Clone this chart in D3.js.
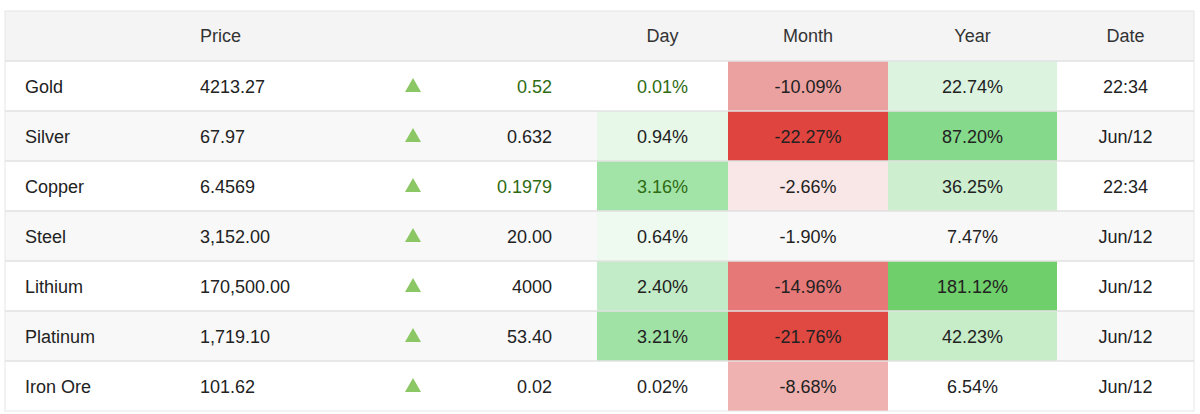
<!DOCTYPE html>
<html lang="en">
<head>
<meta charset="utf-8">
<script src="https://cdn.jsdelivr.net/npm/d3@7"></script>
<style>body{margin:0;background:#fff}text{font-family:"Liberation Sans",Arial,sans-serif;font-size:18px;fill:#222}</style>
</head>
<body>
<script>
// data
var names = ["Gold", "Silver", "Copper", "Steel", "Lithium", "Platinum", "Iron Ore"];
var prices = ["4213.27", "67.97", "6.4569", "3,152.00", "170,500.00", "1,719.10", "101.62"];
var changes = ["0.52", "0.632", "0.1979", "20.00", "4000", "53.40", "0.02"];
var dayPct = [0.01, 0.94, 3.16, 0.64, 2.40, 3.21, 0.02];
var monthPct = [-10.09, -22.27, -2.66, -1.90, -14.96, -21.76, -8.68];
var yearPct = [22.74, 87.20, 36.25, 7.47, 181.12, 42.23, 6.54];
var dates = ["22:34", "Jun/12", "22:34", "Jun/12", "Jun/12", "Jun/12", "Jun/12"];
var live = [true, false, true, false, false, false, false];
var headers = ["", "Price", "", "", "Day", "Month", "Year", "Date"];

var W = 1200, H = 414;
var svg = d3.select("body").append("svg").attr("width", W).attr("height", H);

// column edges
var cols = [5, 180, 380, 445, 597, 728, 888, 1057, 1194];
var y = d3.scaleBand().domain(d3.range(-1, names.length)).range([11, 411]);

var dayColor = d3.scaleLinear().domain([0.1, 0.6, 2.4, 3.2]).range(["#ffffff", "#eff9f0", "#c2ecc7", "#a0e2a5"]).clamp(true);
var monthColor = d3.scaleLinear().domain([-2, -2.66, -8.68, -10.09, -14.96, -22.27]).range(["#ffffff", "#f9e6e6", "#f0b2b0", "#eba1a0", "#e67878", "#e0443e"]).clamp(true);
var yearColor = d3.scaleLinear().domain([8, 22.74, 42.23, 87.2, 181.12]).range(["#ffffff", "#dcf3df", "#c6ecc8", "#85d98a", "#6fcf6a"]).clamp(true);

// header
svg.append("rect").attr("x", cols[0]).attr("y", y(-1)).attr("width", cols[8] - cols[0]).attr("height", y.bandwidth()).attr("fill", "#f4f4f4");
headers.forEach(function(h, i) {
  if (!h) return;
  var x = i == 1 ? cols[1] + 20 : (cols[i] + cols[i + 1]) / 2;
  svg.append("text").attr("x", x).attr("y", y(-1) + y.bandwidth() / 2 + 6)
    .attr("text-anchor", i == 1 ? "start" : "middle").style("fill", "#333").text(h);
});

var rows = svg.selectAll("g.row").data(names).enter().append("g")
  .attr("transform", function(d, i) { return "translate(0," + y(i) + ")"; });
var bh = y.bandwidth(), ty = bh / 2 + 7;
rows.append("rect").attr("x", cols[0]).attr("width", cols[8] - cols[0]).attr("height", bh)
  .attr("fill", function(d, i) { return i % 2 ? "#f8f8f8" : "#fff"; });
function cell(ci, colorFn) {
  rows.append("rect").attr("x", cols[ci]).attr("width", cols[ci + 1] - cols[ci]).attr("height", bh)
    .attr("fill", function(d, i) { return colorFn(i); })
    .attr("fill-opacity", function(d, i) { return colorFn(i) == "rgb(255, 255, 255)" ? 0 : 1; });
}
cell(4, function(i) { return dayColor(dayPct[i]); });
cell(5, function(i) { return monthColor(monthPct[i]); });
cell(6, function(i) { return yearColor(yearPct[i]); });
rows.append("line").attr("x1", cols[0]).attr("x2", cols[8]).attr("y1", 0).attr("y2", 0).attr("stroke", "#e2e2e2").attr("stroke-width", 1.5);

rows.append("text").attr("x", cols[0] + 20).attr("y", ty).text(function(d) { return d; });
rows.append("text").attr("x", cols[1] + 20).attr("y", ty).text(function(d, i) { return prices[i]; });
rows.append("path").attr("d", "M" + (413 - 8) + "," + (ty - 1) + "h16l-8,-14z").attr("fill", "#8bc765");
rows.append("text").attr("x", 552).attr("y", ty).attr("text-anchor", "end")
  .style("fill", function(d, i) { return live[i] ? "#2f6b12" : "#222"; }).text(function(d, i) { return changes[i]; });
rows.append("text").attr("x", (cols[4] + cols[5]) / 2).attr("y", ty).attr("text-anchor", "middle")
  .style("fill", function(d, i) { return live[i] ? "#2f6b12" : "#222"; }).text(function(d, i) { return dayPct[i].toFixed(2) + "%"; });
rows.append("text").attr("x", (cols[5] + cols[6]) / 2).attr("y", ty).attr("text-anchor", "middle").text(function(d, i) { return monthPct[i].toFixed(2) + "%"; });
rows.append("text").attr("x", (cols[6] + cols[7]) / 2).attr("y", ty).attr("text-anchor", "middle").text(function(d, i) { return yearPct[i].toFixed(2) + "%"; });
rows.append("text").attr("x", (cols[7] + cols[8]) / 2).attr("y", ty).attr("text-anchor", "middle").text(function(d, i) { return dates[i]; });

// outer frame
svg.append("rect").attr("x", cols[0]).attr("y", 11).attr("width", cols[8] - cols[0]).attr("height", 400).attr("fill", "none").attr("stroke", "#e6e6e6");
</script>
</body>
</html>
